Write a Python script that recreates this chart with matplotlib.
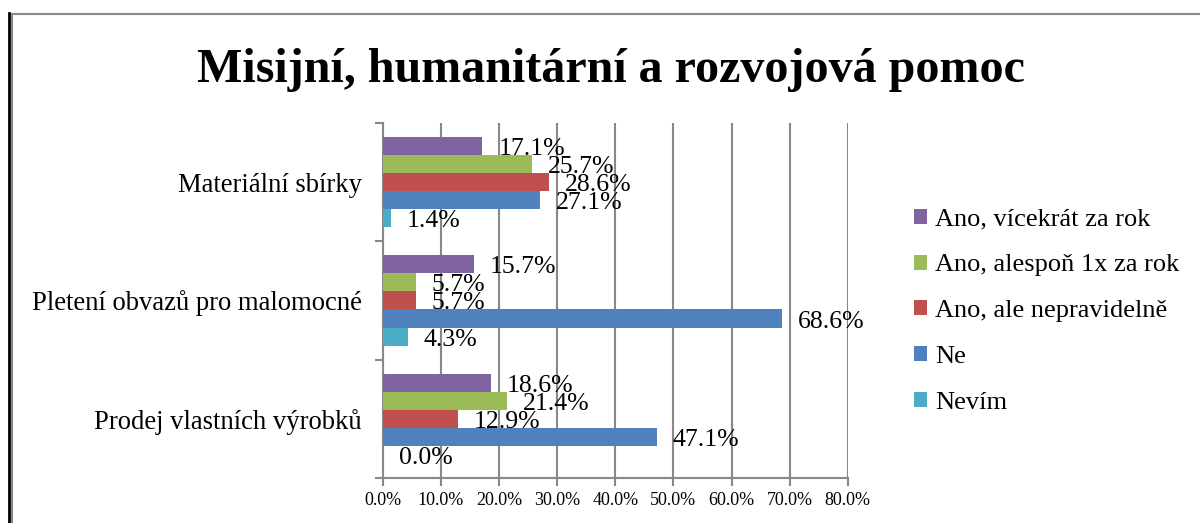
import matplotlib.pyplot as plt
import numpy as np
from matplotlib.lines import Line2D
from matplotlib.patches import Rectangle

plt.rcParams['font.family'] = ['Liberation Serif', 'DejaVu Serif']

categories = ['Materiální sbírky', 'Pletení obvazů pro malomocné', 'Prodej vlastních výrobků']
series = ['Ano, vícekrát za rok', 'Ano, alespoň 1x za rok', 'Ano, ale nepravidelně', 'Ne', 'Nevím']
colors = ['#8064A2', '#9BBB59', '#C0504D', '#4F81BD', '#4BACC6']

vicekrat = [17.1, 15.7, 18.6]
alespon = [25.7, 5.7, 21.4]
nepravidelne = [28.6, 5.7, 12.9]
ne = [27.1, 68.6, 47.1]
nevim = [1.4, 4.3, 0.0]
values = [vicekrat, alespon, nepravidelne, ne, nevim]

xticks = [0, 10, 20, 30, 40, 50, 60, 70, 80]

fig = plt.figure(figsize=(12, 5.23), dpi=100)
ax = fig.add_axes([0.319, 0.086, 0.3875, 0.679])

# frame around the chart
fig.add_artist(Rectangle((12/1200, -0.1), 1.2, 1 - 14/523 + 0.1, transform=fig.transFigure,
                         fill=False, edgecolor='#888888', lw=1.5))
fig.add_artist(Line2D([9/1200, 9/1200], [0, 1 - 13/523], transform=fig.transFigure,
                      color='black', lw=2))

ind = np.arange(len(categories))
h = 0.1525
for k, (name, vals, col) in enumerate(zip(series, values, colors)):
    pos = ind + (k - 2) * h
    ax.barh(pos, vals, h, color=col, label=name, zorder=3)
    for y, v in zip(pos, vals):
        ax.annotate('%.1f%%' % v, (v, y), xytext=(16, -3), textcoords='offset pixels',
                    ha='left', va='center', fontsize=18.5, zorder=4)

ax.set_xlim(0, 80)
ax.set_ylim(2.5, -0.5)
ax.set_xticks(xticks)
ax.set_xticklabels(['%.1f%%' % t for t in xticks], fontsize=13)
ax.set_yticks(ind)
ax.set_yticklabels(categories, fontsize=19.2)
ax.set_yticks([-0.5, 0.5, 1.5, 2.5], minor=True)
ax.tick_params(axis='y', which='major', length=0, pad=15)
ax.tick_params(axis='y', which='minor', length=6, width=1.5, color='#888888', direction='out')
ax.tick_params(axis='x', length=6, width=1.5, color='#888888', direction='out', pad=4)
ax.grid(True, axis='x', color='#888888', lw=1.5, zorder=0)
for s in ['top', 'right']:
    ax.spines[s].set_visible(False)
for s in ['left', 'bottom']:
    ax.spines[s].set_color('#888888')
    ax.spines[s].set_linewidth(1.5)

fig.text(0.509, 0.866, 'Misijní, humanitární a rozvojová pomoc', ha='center', va='center',
         fontsize=34.6, fontweight='bold')

fig.legend(loc='center left', bbox_to_anchor=(0.742, 0.405), frameon=False, fontsize=19,
           handlelength=0.5, handleheight=0.5, handletextpad=0.3, labelspacing=0.9)

plt.savefig('out.png', dpi=100)
